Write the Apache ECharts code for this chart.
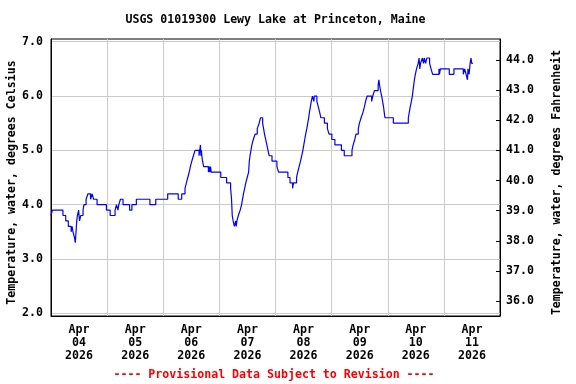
<!DOCTYPE html>
<html><head><meta charset="utf-8">
<script src="https://cdn.jsdelivr.net/npm/echarts@6/dist/echarts.min.js"></script>
<style>html,body{margin:0;padding:0;background:#fff}#c{width:576px;height:384px}</style>
</head><body><div id="c"></div>
<script>
const titleText = 'USGS 01019300 Lewy Lake at Princeton, Maine';
const footerText = '---- Provisional Data Subject to Revision ----';
const leftAxisName = 'Temperature, water, degrees Celsius';
const rightAxisName = 'Temperature, water, degrees Fahrenheit';
const dayLabels = ['Apr\n04\n2026','Apr\n05\n2026','Apr\n06\n2026','Apr\n07\n2026','Apr\n08\n2026','Apr\n09\n2026','Apr\n10\n2026','Apr\n11\n2026'];
const dayGridHours = [24,48,72,96,120,144,168];
const dayLabelHours = [12,36,60,84,108,132,156,180];
const celsiusTicks = [2,3,4,5,6,7];
const fahrenheitTicks = [36,37,38,39,40,41,42,43,44];
// hours since Apr 04 2026 00:00 (change points of the 0.1 degC readings)
const hours = [0,0.6,5.1,6.3,7.4,8.6,9.0,9.4,10.0,10.4,10.7,11.0,11.3,11.8,12.2,12.7,13.7,14.1,15.0,15.8,16.9,17.6,18.2,19.7,23.7,25.3,27.4,28.0,28.6,29.0,29.7,30.8,33.6,34.6,36.5,42.3,44.8,49.9,54.4,55.9,57.3,57.9,58.5,59.1,59.6,60.2,60.9,61.6,63.3,63.6,63.9,64.1,64.3,64.5,64.8,65.3,67.3,67.6,67.9,68.2,68.5,72.6,75.1,76.8,77.2,77.5,77.9,78.4,79.0,79.2,79.5,80.1,80.9,81.5,81.9,82.3,82.8,83.3,83.9,84.5,84.8,85.1,85.5,85.9,86.5,87.3,88.2,89.0,89.6,90.5,90.9,91.3,91.8,92.3,92.8,93.3,94.5,96.6,97.3,101.3,102.2,103.3,103.7,105.0,105.5,106.1,106.7,107.2,107.7,108.1,108.5,108.9,109.4,109.8,110.2,110.5,110.9,111.3,111.8,112.4,112.6,113.7,114.3,114.9,115.4,116.9,118.2,118.9,120.1,121.4,124.2,125.4,128.7,129.2,129.9,130.4,131.4,131.9,132.6,133.4,134.0,134.5,135.2,137.1,137.6,138.3,139.9,140.2,140.5,140.9,141.4,141.8,142.2,142.5,142.8,146.4,152.8,153.2,153.6,154.1,154.5,154.8,155.1,155.4,155.8,156.3,157.0,157.4,157.7,158.0,158.8,159.3,159.6,160.2,160.7,161.9,162.5,163.2,165.9,166.1,166.5,170.3,172.3,176.3,176.9,177.5,178.1,178.3,178.8,179.2,179.6,179.9,180.4];
const tempC = [3.8,3.9,3.8,3.7,3.6,3.5,3.6,3.5,3.4,3.3,3.5,3.7,3.8,3.9,3.7,3.8,3.9,4.0,4.1,4.2,4.1,4.2,4.1,4.0,3.9,3.8,3.9,4.0,3.9,4.0,4.1,4.0,3.9,4.0,4.1,4.0,4.1,4.2,4.1,4.2,4.3,4.4,4.5,4.6,4.7,4.8,4.9,5.0,4.9,5.0,5.1,4.9,5.0,4.9,4.8,4.7,4.6,4.7,4.6,4.7,4.6,4.5,4.4,4.3,4.1,3.8,3.7,3.6,3.7,3.6,3.7,3.8,3.9,4.0,4.1,4.2,4.3,4.4,4.5,4.6,4.8,4.9,5.0,5.1,5.2,5.3,5.4,5.5,5.6,5.5,5.4,5.3,5.2,5.1,5.0,4.9,4.8,4.7,4.6,4.5,4.4,4.3,4.4,4.5,4.6,4.7,4.8,4.9,5.0,5.1,5.2,5.3,5.4,5.5,5.6,5.7,5.8,5.9,6.0,5.9,6.0,5.9,5.8,5.7,5.6,5.5,5.4,5.3,5.2,5.1,5.0,4.9,5.0,5.1,5.2,5.3,5.4,5.5,5.6,5.7,5.8,5.9,6.0,5.9,6.0,6.1,6.2,6.3,6.2,6.1,6.0,5.9,5.8,5.7,5.6,5.5,5.6,5.7,5.8,5.9,6.0,6.1,6.2,6.3,6.4,6.5,6.6,6.7,6.5,6.6,6.7,6.6,6.7,6.6,6.7,6.6,6.5,6.4,6.5,6.4,6.5,6.4,6.5,6.4,6.5,6.4,6.3,6.5,6.4,6.6,6.7,6.6,6.6];

const cMin = 1.95, cMax = 7.05;
const toF = c => c * 1.8 + 32;
const FONT = 'DejaVu Sans Mono';
const txt = {fontFamily: FONT, fontWeight: 'bold', fontSize: 11.6, color: '#000'};

const chart = echarts.init(document.getElementById('c'), null, {renderer: 'canvas'});
chart.setOption({
  animation: false,
  backgroundColor: '#fff',
  grid: {left: 51, right: 76, top: 39, bottom: 68, containLabel: false, outerBoundsMode: 'none', show: true, borderColor: '#000', borderWidth: 1, backgroundColor: 'transparent'},
  xAxis: {
    type: 'value', min: 0, max: 192,
    axisLine: {show: true, lineStyle: {color: '#000', width: 1}},
    axisTick: {show: false, customValues: dayGridHours},
    splitLine: {show: true, lineStyle: {color: '#cccccc', width: 1}},
    axisLabel: Object.assign({}, txt, {customValues: dayLabelHours, margin: 8, lineHeight: 12.7,
      formatter: v => dayLabels[Math.round((v - 12) / 24)]})
  },
  yAxis: [{
    type: 'value', min: cMin, max: cMax, position: 'left',
    name: leftAxisName, nameLocation: 'middle', nameGap: 33, nameRotate: 90, nameMoveOverlap: false,
    nameTextStyle: Object.assign({}, txt, {padding: [0, 10, 0, 0]}),
    axisLine: {show: true, lineStyle: {color: '#000', width: 1}},
    axisTick: {show: false, customValues: celsiusTicks},
    splitLine: {show: true, lineStyle: {color: '#cccccc', width: 1}},
    axisLabel: Object.assign({}, txt, {customValues: celsiusTicks, margin: 8, formatter: v => v.toFixed(1)})
  }, {
    type: 'value', min: toF(cMin), max: toF(cMax), position: 'right',
    name: rightAxisName, nameLocation: 'middle', nameGap: 51, nameRotate: 90, nameMoveOverlap: false,
    nameTextStyle: Object.assign({}, txt, {padding: [0, 10, 0, 0]}),
    axisLine: {show: true, lineStyle: {color: '#000', width: 1}},
    axisTick: {show: true, inside: true, length: 4, customValues: fahrenheitTicks, lineStyle: {color: '#000'}},
    splitLine: {show: false},
    axisLabel: Object.assign({}, txt, {customValues: fahrenheitTicks, margin: 6, formatter: v => v.toFixed(1)})
  }],
  series: [{
    type: 'line', yAxisIndex: 0, step: 'end', showSymbol: false, symbol: 'none',
    lineStyle: {color: '#0000ff', width: 1.2},
    data: hours.map((h, i) => [h, tempC[i]])
  }],
  graphic: [
    {type: 'text', x: 275.5, y: 20, style: {text: titleText, align: 'center', verticalAlign: 'middle', font: 'bold 11.6px "DejaVu Sans Mono"', fill: '#000'}},
    {type: 'text', x: 274, y: 375, style: {text: footerText, align: 'center', verticalAlign: 'middle', font: 'bold 11.6px "DejaVu Sans Mono"', fill: '#ff0000'}}
  ]
});
</script></body></html>
